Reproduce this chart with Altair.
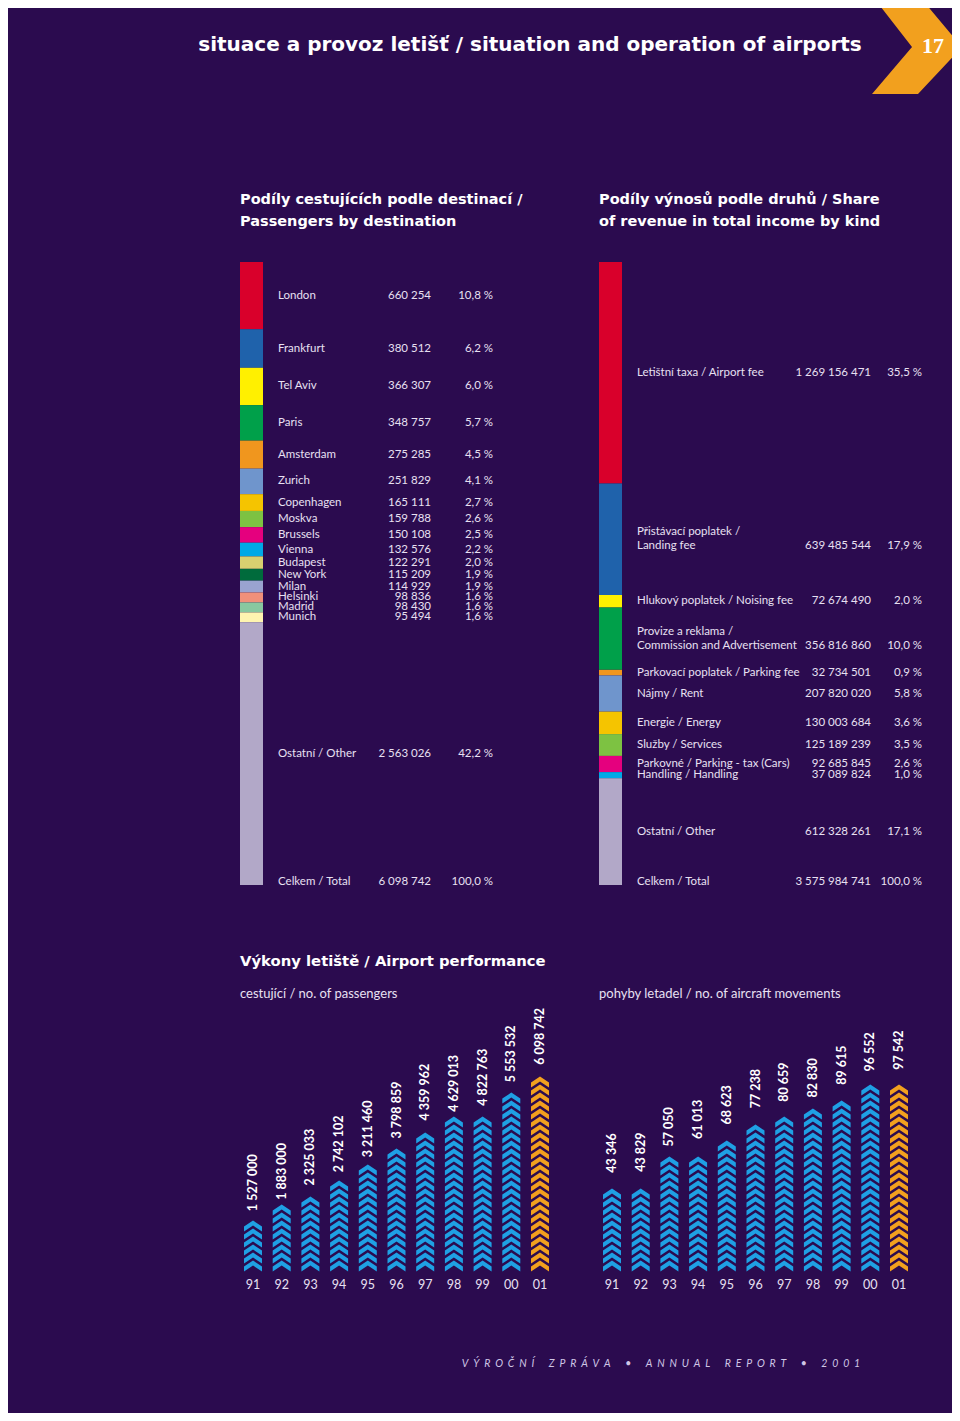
import altair as alt
import pandas as pd

# ---------------- data ----------------
dest_names = ["London", "Frankfurt", "Tel Aviv", "Paris", "Amsterdam", "Zurich",
              "Copenhagen", "Moskva", "Brussels", "Vienna", "Budapest", "New York",
              "Milan", "Helsinki", "Madrid", "Munich", "Ostatní / Other"]
dest_values = [660254, 380512, 366307, 348757, 275285, 251829, 165111, 159788,
               150108, 132576, 122291, 115209, 114929, 98836, 98430, 95494, 2563026]
dest_pct = [10.8, 6.2, 6.0, 5.7, 4.5, 4.1, 2.7, 2.6, 2.5, 2.2, 2.0, 1.9, 1.9,
            1.6, 1.6, 1.6, 42.2]
dest_total = 6098742

rev_names = ["Letištní taxa / Airport fee",
             "Přistávací poplatek /\nLanding fee",
             "Hlukový poplatek / Noising fee",
             "Provize a reklama /\nCommission and Advertisement",
             "Parkovací poplatek / Parking fee",
             "Nájmy / Rent",
             "Energie / Energy",
             "Služby / Services",
             "Parkovné / Parking - tax (Cars)",
             "Handling / Handling",
             "Ostatní / Other"]
rev_values = [1269156471, 639485544, 72674490, 356816860, 32734501, 207820020,
              130003684, 125189239, 92685845, 37089824, 612328261]
rev_pct = [35.5, 17.9, 2.0, 10.0, 0.9, 5.8, 3.6, 3.5, 2.6, 1.0, 17.1]
rev_total = 3575984741

years = ["91", "92", "93", "94", "95", "96", "97", "98", "99", "00", "01"]
passengers = [1527000, 1883000, 2325033, 2742102, 3211460, 3798859, 4359962,
              4629013, 4822763, 5553532, 6098742]
movements = [43346, 43829, 57050, 61013, 68623, 77238, 80659, 82830, 89615,
             96552, 97542]

# ---------------- styles ----------------
BG = "#2b0b4f"
TXT = "#e8e0f2"
WHITE = "#ffffff"
FONT = "Lato"
BOLD_FONT = "DejaVu Sans"
dest_palette = ["#d9002b", "#1f62ab", "#fff000", "#00a04a", "#f0961e", "#6f95cc",
                "#f5c400", "#7dc242", "#e5007e", "#00a8e6", "#d8d070", "#006b3c",
                "#9aa3d0", "#f0907a", "#88c8a0", "#fff4b0", "#b2a8c8"]
rev_palette = ["#d9002b", "#1f62ab", "#fff000", "#00a04a", "#f0961e", "#6f95cc",
               "#f5c400", "#7dc242", "#e5007e", "#00a8e6", "#b2a8c8"]
CHEV_BLUE = "#1fa0e4"
CHEV_ORANGE = "#f2a01e"
CHEVRON = "M0,-0.6 L1,0.05 L1,0.6 L0,-0.05 L-1,0.6 L-1,0.05 Z"
ARROW = "M-0.862,-1 L0.127,-1 L0.968,0 L0.042,0.989 L-0.926,0.989 L-0.084,0 Z"


def fmt_int(n):
    return f"{n:,}".replace(",", " ")


def fmt_pct(p):
    return f"{p:.1f}".replace(".", ",") + " %"


def spaced(words):
    # letter-spaced caption (en spaces between letters, wider gaps between groups)
    return "\u2002\u2002\u2002".join("\u2002".join(w) for w in words)


def stack_df(names, values, pct):
    rows = []
    acc = 0.0
    for i, (n, v, p) in enumerate(zip(names, values, pct)):
        rows.append({"idx": i, "name": n, "start": acc, "end": acc + p,
                     "mid": acc + p / 2, "val": fmt_int(v), "pcts": fmt_pct(p),
                     "lines": n.count("\n") + 1})
        acc += p
    return pd.DataFrame(rows), acc


dummy = pd.DataFrame({"d": [0]})
base = alt.Chart(dummy)


def static_text(text, x, y, size, color=TXT, weight="normal", align="left",
                font=FONT, style="normal", baseline="middle", line_height=None):
    kw = dict(text=text, fontSize=size, color=color, fontWeight=weight, align=align,
              font=font, fontStyle=style, baseline=baseline)
    if "\n" in text:
        kw["lineBreak"] = "\n"
        kw["lineHeight"] = line_height or size + 6
    return base.mark_text(**kw).encode(x=alt.value(x), y=alt.value(y))


def stacked_panel(names, values, pct, palette, total, bar_x, name_x, val_x, pct_x):
    df, s = stack_df(names, values, pct)
    yscale = alt.Scale(domain=[0, s], range=[254, 877], nice=False, zero=False)
    ch = alt.Chart(df)
    bar = ch.mark_bar().encode(
        x=alt.value(bar_x), x2=alt.value(bar_x + 23),
        y=alt.Y("start:Q", scale=yscale, axis=None), y2="end:Q",
        color=alt.Color("name:N", scale=alt.Scale(domain=names, range=palette), legend=None),
    )
    common = dict(fontSize=11.5, color=TXT, font=FONT, baseline="middle")
    single = ch.transform_filter("datum.lines == 1")
    double = ch.transform_filter("datum.lines == 2")
    layers = [bar]
    for src, ndy, vdy in ((single, 0, 0), (double, -7, 7)):
        layers.append(src.mark_text(align="left", lineBreak="\n", lineHeight=14,
                                    dy=ndy, **common).encode(
            x=alt.value(name_x), y=alt.Y("mid:Q", scale=yscale, axis=None), text="name:N"))
        layers.append(src.mark_text(align="right", dy=vdy, **common).encode(
            x=alt.value(val_x), y=alt.Y("mid:Q", scale=yscale, axis=None), text="val:N"))
        layers.append(src.mark_text(align="right", dy=vdy, **common).encode(
            x=alt.value(pct_x), y=alt.Y("mid:Q", scale=yscale, axis=None), text="pcts:N"))
    tot = pd.DataFrame({"pos": [s], "lab": ["Celkem / Total"], "val": [fmt_int(total)],
                        "pcts": ["100,0 %"]})
    tc = alt.Chart(tot)
    tcommon = dict(fontSize=11.5, color=TXT, font=FONT, baseline="alphabetic")
    layers.append(tc.mark_text(align="left", **tcommon).encode(
        x=alt.value(name_x), y=alt.Y("pos:Q", scale=yscale, axis=None), text="lab:N"))
    layers.append(tc.mark_text(align="right", **tcommon).encode(
        x=alt.value(val_x), y=alt.Y("pos:Q", scale=yscale, axis=None), text="val:N"))
    layers.append(tc.mark_text(align="right", **tcommon).encode(
        x=alt.value(pct_x), y=alt.Y("pos:Q", scale=yscale, axis=None), text="pcts:N"))
    return alt.layer(*layers)


def chevron_panel(values, xrange, ydomain, yrange, label_dx):
    px_per_unit = (yrange[0] - yrange[1]) / ydomain[1]
    step = 8 / px_per_unit
    rows = []
    for yr, v in zip(years, values):
        n = max(1, round(v / step))
        for k in range(n):
            rows.append({"year": yr, "pos": (k + 0.5) * step,
                         "kind": "cur" if yr == years[-1] else "past"})
    chev = pd.DataFrame(rows)
    vals = pd.DataFrame({"year": years, "value": values,
                         "lab": [fmt_int(v) for v in values]})
    xs = alt.Scale(type="point", domain=years, range=xrange, padding=0)
    ys = alt.Scale(domain=ydomain, range=yrange, nice=False, zero=True)
    pts = alt.Chart(chev).mark_point(shape=CHEVRON, filled=True, size=324, opacity=1,
                                     strokeWidth=0).encode(
        x=alt.X("year:O", scale=xs, axis=None),
        y=alt.Y("pos:Q", scale=ys, axis=None),
        color=alt.Color("kind:N", scale=alt.Scale(domain=["past", "cur"],
                                                  range=[CHEV_BLUE, CHEV_ORANGE]),
                        legend=None),
    )
    lab = alt.Chart(vals).mark_text(angle=270, align="left", baseline="middle",
                                    dx=label_dx, fontSize=12.5, fontWeight="bold",
                                    color=WHITE, font=FONT).encode(
        x=alt.X("year:O", scale=xs, axis=None),
        y=alt.Y("value:Q", scale=ys, axis=None),
        text="lab:N",
    )
    yl = alt.Chart(vals).mark_text(baseline="middle", fontSize=12.5, color=TXT,
                                   font=FONT).encode(
        x=alt.X("year:O", scale=xs, axis=None),
        y=alt.value(1277),
        text="year:N",
    )
    return alt.layer(pts, lab, yl)


left = stacked_panel(dest_names, dest_values, dest_pct, dest_palette, dest_total,
                     232, 270, 423, 485)
right = stacked_panel(rev_names, rev_values, rev_pct, rev_palette, rev_total,
                      591, 629, 863, 914)
pax = chevron_panel(passengers, [245, 532], [0, 6000000], [1262, 1070], 10)
mov = chevron_panel(movements, [604, 891], [0, 100000], [1262, 1072], 15)

arrow = base.mark_point(shape=ARROW, filled=True, size=9025, opacity=1, strokeWidth=0,
                        color="#f2a01e").encode(x=alt.value(908), y=alt.value(39))

footer = spaced(["VÝROČNÍ", "ZPRÁVA", "•", "ANNUAL", "REPORT", "•", "2001"])

decor = alt.layer(
    arrow,
    static_text("17", 925, 38, 22, WHITE, "bold", "center", "Liberation Serif"),
    static_text("situace a provoz letišť / situation and operation of airports",
                522, 37, 20, WHITE, "bold", "center", BOLD_FONT),
    static_text("Podíly cestujících podle destinací /\nPassengers by destination",
                232, 192, 14.5, WHITE, "bold", font=BOLD_FONT, line_height=22),
    static_text("Podíly výnosů podle druhů / Share\nof revenue in total income by kind",
                591, 192, 14.5, WHITE, "bold", font=BOLD_FONT, line_height=22),
    static_text("Výkony letiště / Airport performance", 232, 954, 14.8, WHITE, "bold",
                font=BOLD_FONT),
    static_text("cestující / no. of passengers", 232, 986, 13, TXT),
    static_text("pohyby letadel / no. of aircraft movements", 591, 986, 13, TXT),
    static_text(footer, 653, 1356, 10.5, "#cfc6e6", "normal", "center", style="italic"),
)

chart = alt.layer(left, right, pax, mov, decor).resolve_scale(
    x="independent", y="independent", color="independent"
).properties(
    width=944, height=1405, padding=0,
    autosize=alt.AutoSizeParams(type="none"),
).configure(background=BG).configure_view(stroke=None)

chart.save("out.html", embed_options={"renderer": "svg", "actions": False})
